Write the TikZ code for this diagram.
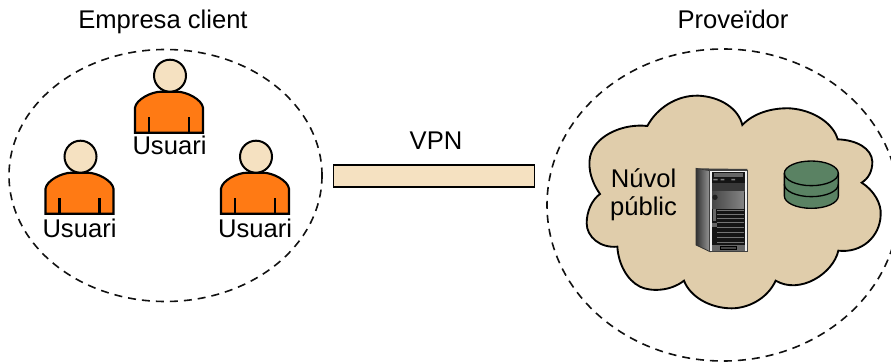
\documentclass[tikz,border=0pt]{standalone}
\usepackage{fontspec}
\usetikzlibrary{shapes.geometric}
\setmainfont{Liberation Sans}
\definecolor{beigeA}{HTML}{F5E1C1}
\definecolor{cloudC}{HTML}{E0CDAB}
\definecolor{orangeC}{HTML}{FF7A14}
\definecolor{greenC}{HTML}{5A8263}
\definecolor{edgeC}{HTML}{111111}
\tikzset{
  px/.style={x=0.75pt,y=-0.75pt},
  lab/.style={font=\fontsize{19.2pt}{23pt}\selectfont,inner sep=0pt,anchor=base},
  zone/.style={draw=edgeC,line width=1.2pt,dash pattern=on 6pt off 4.5pt},
  outl/.style={draw=black,line width=1.6pt},
  person/.pic={
    \draw[outl,fill=orangeC,line join=miter] (-34,57) -- (-34,32) .. controls (-33,24) and (-18,16) .. (-8,16) -- (8,16)
       .. controls (18,16) and (33,24) .. (34,32) -- (34,57) -- cycle;
    \draw[outl,line width=1.7pt] (-20,57) -- (-20,41) (20,57) -- (20,41);
    \draw[outl,line width=1.5pt,fill=beigeA] (1,0) circle (16);
  }
}
\begin{document}
\begin{tikzpicture}[px]
\useasboundingbox (0,0) rectangle (891,363);
% zones
\node[zone,ellipse,draw,minimum width=234.75pt,minimum height=189pt,inner sep=0pt] (clientzone) at (165.5,175.5) {};
\node[zone,ellipse,draw,minimum width=264pt,minimum height=234pt,inner sep=0pt] (providerzone) at (723,205) {};
\node[lab] (clientlabel) at (163,28.5) {Empresa client};
\node[lab] (providerlabel) at (733,28.5) {Proveïdor};
% people
\pic at (169,75.7) {person};
\pic at (79.5,156.7) {person};
\pic at (255,156.7) {person};
\node[lab] (u1) at (169.5,155) {Usuari};
\node[lab] (u2) at (79.5,237.5) {Usuari};
\node[lab] (u3) at (255,237.5) {Usuari};
% VPN
\node[draw=black,line width=1pt,fill=beigeA,minimum width=151pt,minimum height=16.5pt,inner sep=0pt] (tunnel) at (434,176) {};
\node[lab] (vpn) at (436,150) {VPN};
% cloud
\begin{scope}[shift={(540,40)},x=0.25pt,y=-0.25pt]
\draw[outl,fill=cloudC,line width=1.4pt]
 (180,462) .. controls (150,420) and (140,370) .. (155,335)
 .. controls (175,285) and (250,250) .. (322,258)
 .. controls (350,205) and (410,165) .. (475,167)
 .. controls (540,170) and (595,205) .. (607,255)
 .. controls (640,220) and (695,203) .. (750,205)
 .. controls (820,210) and (880,250) .. (893,298)
 .. controls (950,300) and (995,325) .. (997,365)
 .. controls (997,395) and (985,415) .. (965,428)
 .. controls (1000,450) and (1025,490) .. (1022,525)
 .. controls (1020,590) and (965,640) .. (895,632)
 .. controls (880,700) and (780,765) .. (707,722)
 .. controls (680,780) and (620,805) .. (575,805)
 .. controls (510,805) and (450,770) .. (432,722)
 .. controls (390,755) and (330,755) .. (300,740)
 .. controls (260,720) and (235,670) .. (232,620)
 .. controls (180,625) and (140,590) .. (140,550)
 .. controls (140,515) and (155,480) .. (180,462) -- cycle;
\end{scope}
\node[lab] (cloudlabel) at (643.5,187.5) {Núvol};
\node[lab] (cloudlabel2) at (643.5,215) {públic};
% server
\begin{scope}[shift={(660,140)},x=0.25pt,y=-0.25pt]
 \draw[draw=black!80,line width=.6pt,left color=black!80,right color=black!40] (108,85) -- (150,92) -- (150,335) -- (108,315) -- cycle;
 \fill[black!75] (108,85) -- (262,87) -- (262,92) -- (150,92) -- cycle;
 \draw[draw=black!75,fill=black!6,line width=.7pt] (148,90) rectangle (262,335);
 \fill[black!92] (156,96) rectangle (255,330);
 \fill[black!60] (161,100) rectangle (248,111);
 \fill[black!78] (156,128) rectangle (255,155);
 \fill[black!50] (160,117) rectangle (173,121) (182,117) rectangle (193,121) (214,117) rectangle (225,121);
 \shade[left color=black!72,right color=black!48] (156,156) rectangle (252,205);
 \fill[black!88] (165,172) circle (8);
 \fill[black!60] (158,207) rectangle (168,242);
 \foreach \yy in {209,222,234,246,262,275,292,305}{
   \fill[black!55] (170,\yy) rectangle (252,\yy+3);
 }
 \fill[black!60] (156,262) -- (170,262) -- (170,248) -- (156,248) -- cycle;
 \fill[black!60] (156,314) rectangle (255,332);
 \draw[black,fill=black!72,line width=.4pt] (181,318) rectangle (228,329);
\end{scope}
% database
\begin{scope}[shift={(660,140)},x=0.25pt,y=-0.25pt]
 \draw[outl,line width=1pt,fill=greenC] (373,100) -- (373,168) arc[start angle=180,end angle=0,x radius=81,y radius=37] -- (535,100) arc[start angle=0,end angle=-180,x radius=81,y radius=37] -- cycle;
 \draw[outl,line width=1pt] (373,133) arc[start angle=180,end angle=0,x radius=81,y radius=37];
 \draw[outl,line width=1pt] (373,100) arc[start angle=180,end angle=0,x radius=81,y radius=37];
\end{scope}
\end{tikzpicture}
\end{document}
